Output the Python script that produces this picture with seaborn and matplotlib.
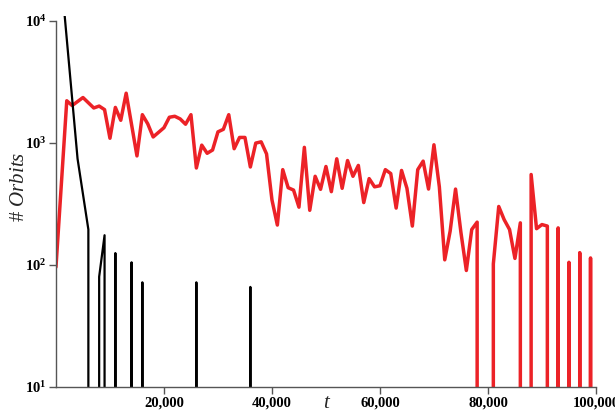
import numpy as np
import pandas as pd
import matplotlib.pyplot as plt
import seaborn as sns
from matplotlib.ticker import FixedLocator, FuncFormatter, NullLocator

# orbit counts vs time (red = main family, black = early decay), zeros drop to the axis
red_t = [0, 2000, 3000, 5000, 7000, 8000, 9000, 10000, 11000, 12000, 13000, 15000,
         16000, 17000, 18000, 20000, 21000, 22000, 23000, 24000, 25000, 26000, 27000,
         28000, 29000, 30000, 31000, 32000, 33000, 34000, 35000, 36000, 37000, 38000,
         39000, 40000, 41000, 42000, 43000, 44000, 45000, 46000, 47000, 48000, 49000,
         50000, 51000, 52000, 53000, 54000, 55000, 56000, 57000, 58000, 59000, 60000,
         61000, 62000, 63000, 64000, 65000, 66000, 67000, 68000, 69000, 70000, 71000,
         72000, 73000, 74000, 75000, 76000, 77000, 78000, 79000, 80000, 81000, 82000,
         83000, 84000, 85000, 86000, 87000, 88000, 89000, 90000, 91000, 92000, 93000,
         94000, 95000, 96000, 97000, 98000, 99000, 100000]
red_n = [96, 2210, 2020, 2350, 1930, 2000, 1870, 1090, 1950, 1530, 2550, 781,
         1700, 1430, 1117, 1330, 1620, 1650, 1570, 1420, 1700, 622, 957,
         821, 873, 1230, 1290, 1700, 895, 1107, 1107, 634, 995, 1019,
         811, 341, 212, 603, 429, 410, 297, 918, 280, 532, 416,
         640, 398, 740, 424, 716, 532, 653, 324, 509, 436, 445,
         603, 560, 292, 594, 424, 208, 603, 708, 418, 964, 436,
         110, 189, 418, 184, 90, 195, 224, 0, 0, 102, 301,
         235, 195, 113, 221, 0, 550, 198, 214, 208, 0, 201,
         0, 105, 0, 126, 0, 114, 0]

black_t = [1000, 4000, 6000, 7000, 8000, 9000, 10000, 11000, 12000, 13000, 14000,
           15000, 16000, 17000, 25000, 26000, 27000, 35000, 36000, 37000]
black_n = [22000, 740, 195, 0, 80, 175, 0, 125, 0, 0, 105,
           0, 72, 0, 0, 72, 0, 0, 66, 0]

red = pd.DataFrame({"t": red_t, "n": red_n})
black = pd.DataFrame({"t": black_t, "n": black_n})

sns.set_style("ticks")
plt.rcParams["font.family"] = ["Liberation Serif", "DejaVu Serif"]
plt.rcParams["mathtext.fontset"] = "custom"
plt.rcParams["mathtext.rm"] = "Liberation Serif"
plt.rcParams["mathtext.bf"] = "Liberation Serif:bold"
plt.rcParams["mathtext.it"] = "Liberation Serif:italic"

fig, ax = plt.subplots(figsize=(6.15, 4.13), dpi=100)
fig.subplots_adjust(left=0.091, right=0.969, bottom=0.063, top=0.962)

sns.lineplot(data=red, x="t", y="n", color="#ec2227", lw=2.5,
             estimator=None, sort=False, ax=ax)
sns.lineplot(data=black, x="t", y="n", color="black", lw=1.6,
             estimator=None, sort=False, ax=ax)

ax.set_yscale("log")
ax.set_ylim(10, 1.1e4)
ax.set_xlim(0, 100000)
ax.spines["left"].set_bounds(10, 1e4)
sns.despine(ax=ax)

ax.yaxis.set_major_locator(FixedLocator([10, 100, 1000, 10000]))
ax.yaxis.set_major_formatter(FuncFormatter(lambda v, p: r"$\mathbf{10^{%d}}$" % round(np.log10(v))))
ax.yaxis.set_minor_locator(NullLocator())
ax.xaxis.set_major_locator(FixedLocator([20000, 40000, 60000, 80000, 100000]))
ax.xaxis.set_major_formatter(FuncFormatter(lambda v, p: f"{v:,.0f}"))

for s in ["left", "bottom"]:
    ax.spines[s].set_color("#555555")
    ax.spines[s].set_linewidth(1.0)
ax.tick_params(axis="both", colors="#555555", labelcolor="black", length=5,
               width=1.0, labelsize=10.5, pad=2)
plt.setp(ax.get_xticklabels(), fontweight="bold")

ax.set_xlabel("t", style="italic", fontsize=15)
ax.xaxis.set_label_coords(0.5, -0.018)
ax.set_ylabel(r"# $\mathit{Orbits}$", fontsize=15)
ax.yaxis.set_label_coords(-0.05, 0.54)

fig.savefig("out.png", dpi=100)
